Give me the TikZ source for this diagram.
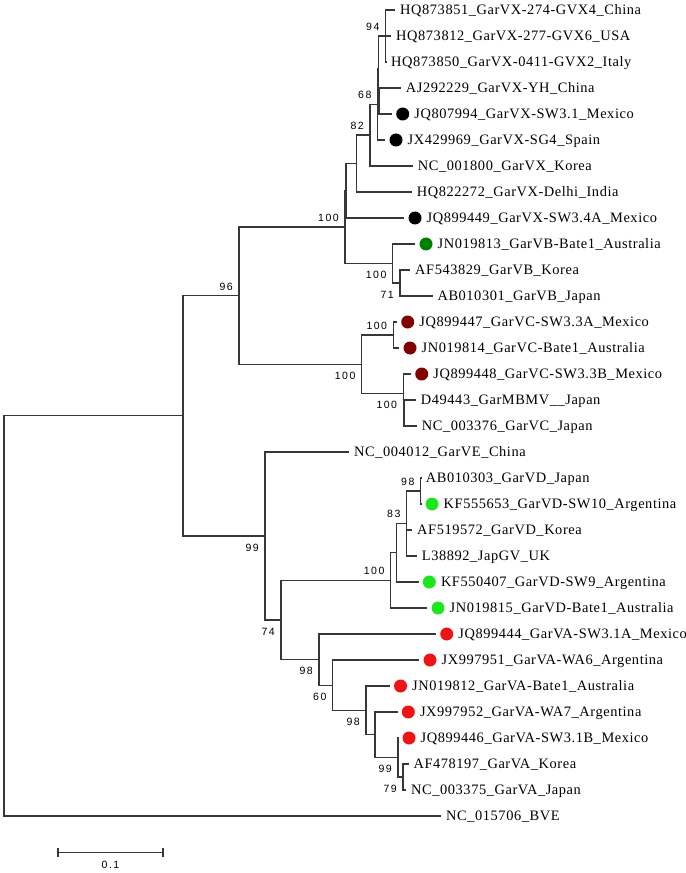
\documentclass[tikz,border=0pt]{standalone}
\usepackage{fontspec}
\setmainfont[LetterSpace=4]{Liberation Serif}
\newfontfamily\bootfont[LetterSpace=14]{Liberation Sans}
\usetikzlibrary{positioning,arrows.meta}
\definecolor{branchgray}{RGB}{55,55,55}
\definecolor{gvxblack}{RGB}{0,0,0}
\definecolor{gvbgreen}{RGB}{0,128,0}
\definecolor{gvcred}{RGB}{128,0,0}
\definecolor{gvdgreen}{RGB}{30,230,30}
\definecolor{gvared}{RGB}{238,20,20}

\begin{document}
\begin{tikzpicture}[
    x=0.75pt, y=-0.75pt,
    branch/.style={draw=branchgray, line width=0.9pt},
    todot/.style={shorten >=3pt},
    tip/.style={anchor=west, inner xsep=3.5pt, inner ysep=0pt, text height=7pt, text depth=0pt, font=\fontsize{10.8}{12}\selectfont},
    dot/.style={circle, minimum size=9.75pt, inner sep=0pt},
    boot/.style={inner sep=0pt, text height=5.7pt, text depth=0pt, font=\bootfont\fontsize{7.9}{8}\selectfont}
]
    \useasboundingbox (0,0) rectangle (685,873);

    % Internal nodes
    \coordinate (root) at (4,615.9);
    \coordinate (nAll) at (183,415.8);
    \coordinate (n96) at (239,295.7);
    \coordinate (n99) at (265,536);
    \coordinate (nXB) at (345,227.1);
    \coordinate (nX1) at (346,190.8);
    \coordinate (nX2) at (356.7,163.6);
    \coordinate (n82) at (370,135.1);
    \coordinate (n68) at (377.7,104.25);
    \coordinate (nX3) at (378.3,68.5);
    \coordinate (n94) at (385.7,36);
    \coordinate (nX4) at (379,101);
    \coordinate (nB1) at (392.7,263.5);
    \coordinate (n71) at (400,283);
    \coordinate (nC) at (361.7,364.25);
    \coordinate (nC1) at (393.3,335);
    \coordinate (nC2) at (403.3,393.5);
    \coordinate (nC3) at (404,413);
    \coordinate (n74) at (281,620);
    \coordinate (nD) at (390.7,580.4);
    \coordinate (nD1) at (396.7,552.75);
    \coordinate (n83) at (406.7,523.5);
    \coordinate (nD2) at (420.7,491);
    \coordinate (nA) at (319,659.6);
    \coordinate (nA1) at (332.7,685.2);
    \coordinate (nA2) at (366,710.4);
    \coordinate (nA3) at (375,734.75);
    \coordinate (nA4) at (398,757.5);
    \coordinate (nA5) at (403,777);

    % GarVX
    \node[tip] (tip1) at (395.3,10) {HQ873851\_GarVX-274-GVX4\_China};
    \node[tip] (tip2) at (391.3,36) {HQ873812\_GarVX-277-GVX6\_USA};
    \node[tip] (tip3) at (386.3,62) {HQ873850\_GarVX-0411-GVX2\_Italy};
    \node[tip] (tip4) at (401,88) {AJ292229\_GarVX-YH\_China};
    \node[dot, fill=gvxblack] (dot5) at (402.7,114) {};
    \node[tip, right=0pt of dot5] (tip5) {JQ807994\_GarVX-SW3.1\_Mexico};
    \node[dot, fill=gvxblack] (dot6) at (396,140) {};
    \node[tip, right=0pt of dot6] (tip6) {JX429969\_GarVX-SG4\_Spain};
    \node[tip] (tip7) at (413,166) {NC\_001800\_GarVX\_Korea};
    \node[tip] (tip8) at (412,192) {HQ822272\_GarVX-Delhi\_India};
    \node[dot, fill=gvxblack] (dot9) at (415,218) {};
    \node[tip, right=0pt of dot9] (tip9) {JQ899449\_GarVX-SW3.4A\_Mexico};

    % GarVB
    \node[dot, fill=gvbgreen] (dot10) at (426,244) {};
    \node[tip, right=0pt of dot10] (tip10) {JN019813\_GarVB-Bate1\_Australia};
    \node[tip] (tip11) at (410.3,270) {AF543829\_GarVB\_Korea};
    \node[tip] (tip12) at (432.6,296) {AB010301\_GarVB\_Japan};

    % GarVC
    \node[dot, fill=gvcred] (dot13) at (407.7,322) {};
    \node[tip, right=0pt of dot13] (tip13) {JQ899447\_GarVC-SW3.3A\_Mexico};
    \node[dot, fill=gvcred] (dot14) at (410,348) {};
    \node[tip, right=0pt of dot14] (tip14) {JN019814\_GarVC-Bate1\_Australia};
    \node[dot, fill=gvcred] (dot15) at (421.7,374) {};
    \node[tip, right=0pt of dot15] (tip15) {JQ899448\_GarVC-SW3.3B\_Mexico};
    \node[tip] (tip16) at (416,400) {D49443\_GarMBMV\_\_Japan};
    \node[tip] (tip17) at (417,426) {NC\_003376\_GarVC\_Japan};

    % GarVE, GarVD
    \node[tip] (tip18) at (349.3,452) {NC\_004012\_GarVE\_China};
    \node[tip] (tip19) at (421,478) {AB010303\_GarVD\_Japan};
    \node[dot, fill=gvdgreen] (dot20) at (432,504) {};
    \node[tip, right=0pt of dot20] (tip20) {KF555653\_GarVD-SW10\_Argentina};
    \node[tip] (tip21) at (412.3,530) {AF519572\_GarVD\_Korea};
    \node[tip] (tip22) at (417,556) {L38892\_JapGV\_UK};
    \node[dot, fill=gvdgreen] (dot23) at (429.3,582) {};
    \node[tip, right=0pt of dot23] (tip23) {KF550407\_GarVD-SW9\_Argentina};
    \node[dot, fill=gvdgreen] (dot24) at (438,608) {};
    \node[tip, right=0pt of dot24] (tip24) {JN019815\_GarVD-Bate1\_Australia};

    % GarVA
    \node[dot, fill=gvared] (dot25) at (446.7,634) {};
    \node[tip, right=0pt of dot25] (tip25) {JQ899444\_GarVA-SW3.1A\_Mexico};
    \node[dot, fill=gvared] (dot26) at (430,660) {};
    \node[tip, right=0pt of dot26] (tip26) {JX997951\_GarVA-WA6\_Argentina};
    \node[dot, fill=gvared] (dot27) at (400.5,686) {};
    \node[tip, right=0pt of dot27] (tip27) {JN019812\_GarVA-Bate1\_Australia};
    \node[dot, fill=gvared] (dot28) at (408.3,712) {};
    \node[tip, right=0pt of dot28] (tip28) {JX997952\_GarVA-WA7\_Argentina};
    \node[dot, fill=gvared] (dot29) at (409,738) {};
    \node[tip, right=0pt of dot29] (tip29) {JQ899446\_GarVA-SW3.1B\_Mexico};
    \node[tip] (tip30) at (408.6,764) {AF478197\_GarVA\_Korea};
    \node[tip] (tip31) at (406.3,790) {NC\_003375\_GarVA\_Japan};

    % Outgroup
    \node[tip] (tip32) at (441.3,816) {NC\_015706\_BVE};

    % Branches
    \draw[branch] (root) |- (nAll);
    \draw[branch] (root) |- (tip32);
    \draw[branch] (nAll) |- (n96);
    \draw[branch] (nAll) |- (n99);
    \draw[branch] (n96) |- (nXB);
    \draw[branch] (n96) |- (nC);
    \draw[branch] (nXB) |- (nX1);
    \draw[branch] (nXB) |- (nB1);
    \draw[branch] (nX1) |- (nX2);
    \draw[branch, todot] (nX1) |- (dot9);
    \draw[branch] (nX2) |- (n82);
    \draw[branch] (nX2) |- (tip8);
    \draw[branch] (n82) |- (n68);
    \draw[branch] (n82) |- (tip7);
    \draw[branch] (n68) |- (nX3);
    \draw[branch, todot] (n68) |- (dot6);
    \draw[branch] (nX3) |- (n94);
    \draw[branch] (nX3) |- (nX4);
    \draw[branch] (n94) |- (tip1);
    \draw[branch] (n94) |- (tip2);
    \draw[branch] (n94) |- (tip3);
    \draw[branch] (nX4) |- (tip4);
    \draw[branch, todot] (nX4) |- (dot5);
    \draw[branch, todot] (nB1) |- (dot10);
    \draw[branch] (nB1) |- (n71);
    \draw[branch] (n71) |- (tip11);
    \draw[branch] (n71) |- (tip12);
    \draw[branch] (nC) |- (nC1);
    \draw[branch] (nC) |- (nC2);
    \draw[branch, todot] (nC1) |- (dot13);
    \draw[branch, todot] (nC1) |- (dot14);
    \draw[branch, todot] (nC2) |- (dot15);
    \draw[branch] (nC2) |- (nC3);
    \draw[branch] (nC3) |- (tip16);
    \draw[branch] (nC3) |- (tip17);
    \draw[branch] (n99) |- (tip18);
    \draw[branch] (n99) |- (n74);
    \draw[branch] (n74) |- (nD);
    \draw[branch] (n74) |- (nA);
    \draw[branch] (nD) |- (nD1);
    \draw[branch, todot] (nD) |- (dot24);
    \draw[branch] (nD1) |- (n83);
    \draw[branch, todot] (nD1) |- (dot23);
    \draw[branch] (n83) |- (nD2);
    \draw[branch] (n83) |- (tip21);
    \draw[branch] (n83) |- (tip22);
    \draw[branch] (nD2) |- (tip19);
    \draw[branch, todot] (nD2) |- (dot20);
    \draw[branch, todot] (nA) |- (dot25);
    \draw[branch] (nA) |- (nA1);
    \draw[branch, todot] (nA1) |- (dot26);
    \draw[branch] (nA1) |- (nA2);
    \draw[branch, todot] (nA2) |- (dot27);
    \draw[branch] (nA2) |- (nA3);
    \draw[branch, todot] (nA3) |- (dot28);
    \draw[branch] (nA3) |- (nA4);
    \draw[branch, todot] (nA4) |- (dot29);
    \draw[branch] (nA4) |- (nA5);
    \draw[branch] (nA5) |- (tip30);
    \draw[branch] (nA5) |- (tip31);

    % Bootstrap values
    \node[boot, above left=4pt and 4.5pt of n96] (b96) {96};
    \node[boot, below left=5.5pt and 4.5pt of n99] (b99) {99};
    \node[boot, above left=4pt and 4.5pt of nXB] (bXB) {100};
    \node[boot, above left=4pt and 4.5pt of n82] (b82) {82};
    \node[boot, above left=4pt and 4.5pt of n68] (b68) {68};
    \node[boot, above left=4pt and 4.5pt of n94] (b94) {94};
    \node[boot, below left=5.5pt and 4.5pt of nB1] (bB1) {100};
    \node[boot, below left=5.5pt and 4.5pt of n71] (b71) {71};
    \node[boot, below left=5.5pt and 4.5pt of nC] (bC) {100};
    \node[boot, above left=4pt and 4.5pt of nC1] (bC1) {100};
    \node[boot, below left=5.5pt and 4.5pt of nC2] (bC2) {100};
    \node[boot, below left=5.5pt and 4.5pt of n74] (b74) {74};
    \node[boot, above left=4pt and 4.5pt of nD] (bD) {100};
    \node[boot, above left=4pt and 4.5pt of n83] (b83) {83};
    \node[boot, above left=4pt and 4.5pt of nD2] (bD2) {98};
    \node[boot, below left=5.5pt and 4.5pt of nA] (bA) {98};
    \node[boot, below left=5.5pt and 4.5pt of nA1] (bA1) {60};
    \node[boot, below left=5.5pt and 4.5pt of nA2] (bA2) {98};
    \node[boot, below left=5.5pt and 4.5pt of nA4] (bA4) {99};
    \node[boot, below left=5.5pt and 4.5pt of nA5] (bA5) {79};

    % Scale bar
    \coordinate (bar1) at (57.4,852.3);
    \coordinate (bar2) at (163.5,852.3);
    \draw[branch, {Bar[width=6.5pt]}-{Bar[width=6.5pt]}] (bar1) -- (bar2);
    \node[boot] (barlabel) at (110.5,865) {0.1};
\end{tikzpicture}
\end{document}
